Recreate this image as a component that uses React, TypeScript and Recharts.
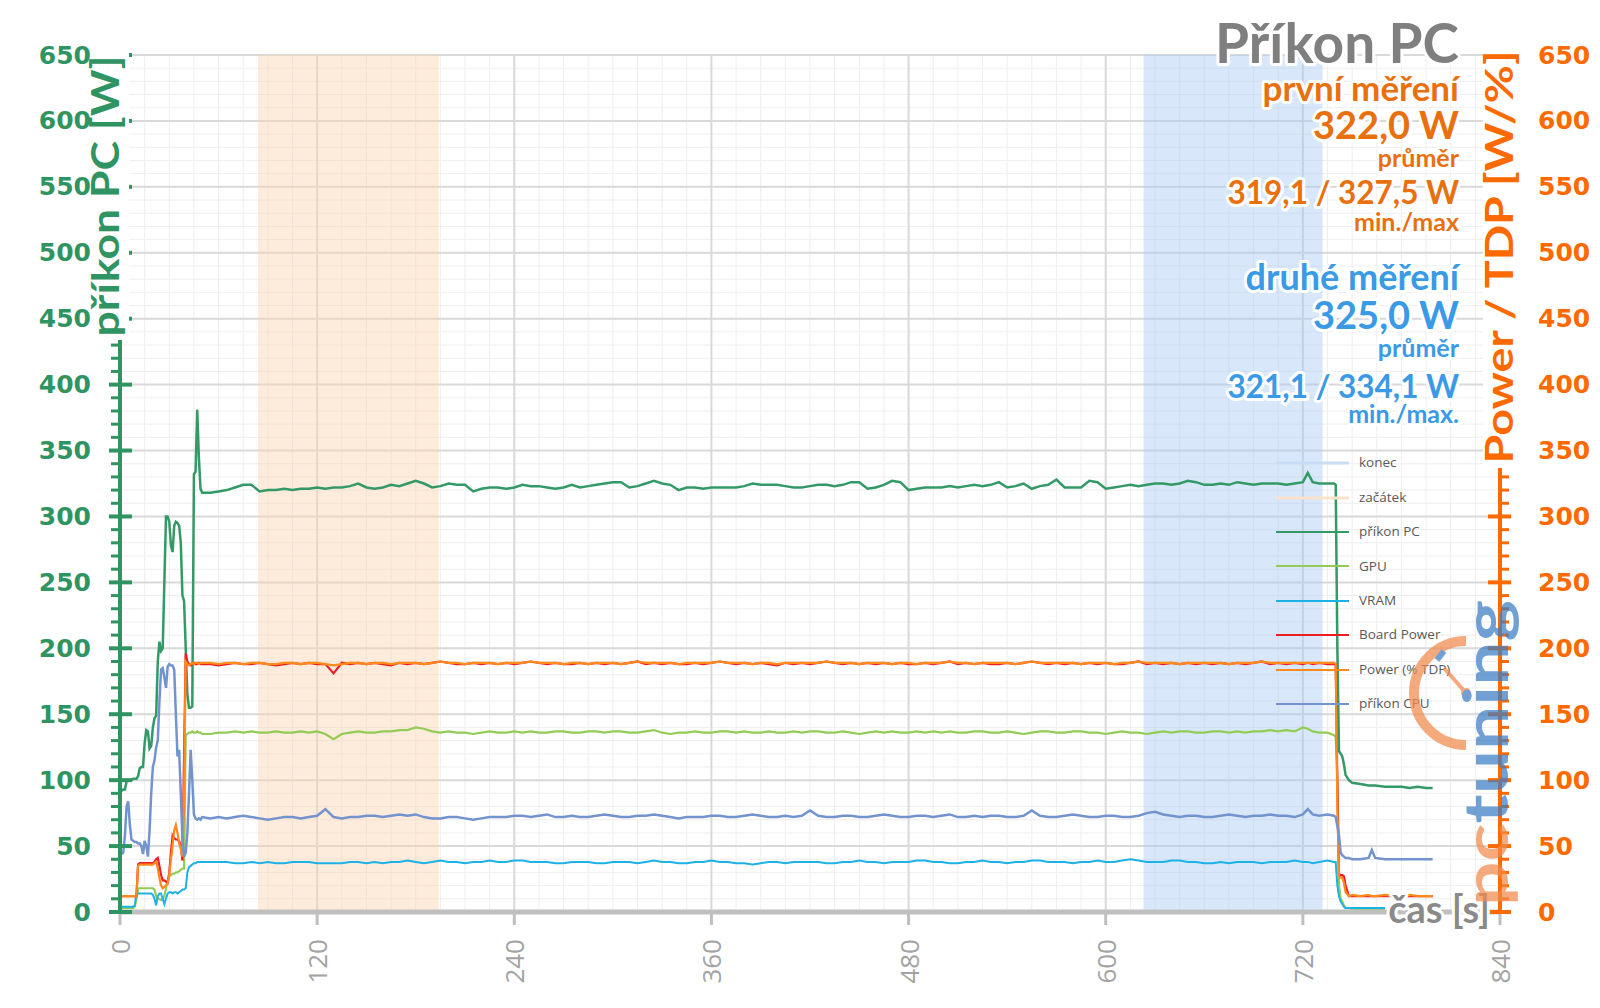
import { LineChart, Line, XAxis, YAxis, CartesianGrid, ReferenceArea, Legend } from 'recharts';

// time in seconds
const sec = [
  0, 1, 2, 3, 4, 5, 6, 7, 8, 9, 10, 11, 12, 13, 14, 15, 16, 17, 18, 19, 20, 21, 22, 23, 24, 25,
  26, 27, 28, 29, 30, 31, 32, 33, 34, 35, 36, 37, 38, 39, 40, 41, 42, 43, 44, 45, 46, 47, 48, 49, 50,
  55, 60, 65, 70, 75, 80, 85, 90, 95, 100, 105, 110,
  115, 120, 125, 130, 135, 140, 145, 150, 155, 160, 165, 170,
  175, 180, 185, 190, 195, 200, 205, 210, 215, 220, 225, 230,
  235, 240, 245, 250, 255, 260, 265, 270, 275, 280, 285, 290,
  295, 300, 305, 310, 315, 320, 325, 330, 335, 340, 345, 350,
  355, 360, 365, 370, 375, 380, 385, 390, 395, 400, 405, 410,
  415, 420, 425, 430, 435, 440, 445, 450, 455, 460, 465, 470,
  475, 480, 485, 490, 495, 500, 505, 510, 515, 520, 525, 530,
  535, 540, 545, 550, 555, 560, 565, 570, 575, 580, 585, 590,
  595, 600, 605, 610, 615, 620, 625, 630, 635, 640, 645, 650,
  655, 660, 665, 670, 675, 680, 685, 690, 695, 700, 705, 710,
  715,
  720, 723, 726, 730, 735, 739, 740, 741, 742, 743, 744, 745, 746, 748, 750, 755, 760, 762, 764, 770,
  775, 780, 785, 790, 795, 799,
];

// příkon PC [W]
const pcW = [
  92, 92, 93, 93, 99, 100, 100, 100, 101, 101,
  101, 103, 109, 110, 110, 128, 138, 137, 124, 126,
  140, 147, 149, 190, 205, 198, 200, 250, 300, 300,
  296, 278, 273, 293, 296, 295, 293, 280, 240, 236,
  200, 165, 155, 155, 156, 332, 334, 381, 345, 321,
  318,
  318, 319, 320, 322, 324, 324, 319, 320, 320, 321, 320, 321,
  321, 322, 321, 322, 322, 323, 325, 322, 321, 322, 324, 323,
  325, 327, 325, 322, 323, 325, 324, 324, 319, 321, 322, 322,
  321, 322, 324, 323, 323, 322, 321, 322, 324, 322, 323, 324,
  325, 326, 326, 322, 323, 325, 327, 325, 324, 320, 322, 322,
  321, 322, 322, 322, 322, 323, 325, 324, 324, 324, 323, 322,
  322, 323, 324, 324, 323, 324, 326, 326, 321, 322, 324, 327,
  326, 320, 321, 322, 322, 322, 323, 322, 323, 324, 323, 324,
  326, 322, 323, 325, 321, 323, 324, 328, 322, 322, 322, 327,
  326, 321, 322, 323, 324, 323, 324, 325, 325, 324, 325, 327,
  326, 324, 324, 325, 324, 326, 325, 324, 325, 325, 325, 324,
  325,
  326, 333, 326, 325, 325, 325, 324, 200, 122, 120, 118, 112, 104, 100, 98, 97, 96, 96, 96, 95,
  95, 95, 94, 95, 94, 94,
];

// GPU [W]
const gpuW = [
  3, 3, 3, 3, 3, 3, 3, 3, 3, 4,
  10, 18, 18, 18, 18, 18, 18, 18, 18, 18,
  18, 17, 12, 10, 10, 9, 10, 12, 18, 24,
  27, 28, 29, 29, 30, 30, 31, 32, 33, 33,
  134, 135, 136, 136, 137, 136, 136, 137, 136, 136,
  135,
  135, 136, 136, 137, 136, 137, 136, 136, 137, 136, 136, 137,
  136, 137, 135, 131, 135, 136, 137, 136, 136, 137, 137, 138,
  138, 140, 139, 137, 136, 137, 136, 136, 135, 136, 137, 136,
  136, 137, 136, 137, 136, 136, 137, 137, 136, 136, 137, 137,
  136, 137, 137, 136, 136, 137, 138, 136, 135, 136, 136, 137,
  136, 136, 137, 137, 136, 137, 136, 136, 137, 136, 136, 137,
  136, 137, 137, 136, 136, 137, 136, 135, 136, 137, 136, 137,
  136, 136, 137, 136, 137, 136, 137, 136, 136, 137, 137, 136,
  136, 137, 136, 135, 136, 137, 137, 136, 136, 137, 137, 136,
  136, 135, 136, 137, 136, 136, 135, 136, 137, 136, 137, 137,
  136, 136, 137, 137, 136, 137, 136, 137, 137, 138, 137, 138,
  137,
  140, 139, 137, 136, 136, 134, 133, 100, 20, 10, 8, 5, 3, 3, 2, 2, 2, 2, 2, 2,
  null, null, null, null, null, null,
];

// VRAM [W]
const vramW = [
  4, 4, 4, 4, 4, 4, 4, 4, 4, 5,
  14, 14, 14, 14, 14, 14, 14, 14, 14, 14,
  13, 10, 5, 12, 14, 14, 10, 6, 10, 14,
  15, 15, 14, 15, 15, 14, 15, 16, 17, 17,
  18, 30, 34, 35, 36, 37, 37, 38, 38, 38,
  38,
  38, 38, 38, 37, 37, 38, 37, 38, 37, 37, 38, 38,
  38, 37, 37, 37, 37, 38, 38, 37, 38, 37, 38, 38,
  39, 38, 37, 38, 39, 38, 38, 37, 38, 38, 39, 38,
  38, 39, 39, 38, 38, 38, 37, 37, 38, 38, 38, 37,
  37, 38, 38, 38, 37, 38, 39, 38, 38, 37, 37, 38,
  38, 39, 38, 38, 37, 37, 36, 37, 38, 38, 37, 38,
  38, 38, 38, 37, 37, 38, 38, 39, 38, 38, 37, 38,
  38, 38, 39, 39, 38, 38, 37, 37, 38, 38, 39, 38,
  38, 37, 38, 38, 39, 39, 38, 38, 38, 37, 38, 38,
  39, 38, 38, 39, 40, 39, 38, 38, 38, 39, 39, 38,
  38, 37, 37, 38, 37, 38, 38, 38, 37, 38, 38, 38,
  39,
  38, 38, 37, 38, 39, 38, 38, 20, 12, 8, 6, 4, 3, 3, 3, 3, 3, 3, 3, 3,
  null, null, null, null, null, null,
];

// příkon CPU [W]
const cpuW = [
  45, 44, 45, 58, 80, 84, 66, 55, 54, 53,
  53, 52, 52, 50, 44, 54, 50, 42, 62, 90,
  110, 115, 125, 130, 160, 184, 185, 178, 170, 186,
  188, 187, 187, 184, 150, 118, 123, 90, 55, 42,
  45, 60, 90, 123, 100, 74, 71, 70, 71, 70,
  72,
  71, 72, 71, 72, 73, 72, 71, 70, 71, 72, 72, 71,
  72, 73, 78, 72, 71, 72, 72, 73, 73, 72, 73, 74,
  73, 74, 72, 71, 71, 72, 72, 71, 70, 71, 72, 72,
  72, 73, 73, 72, 73, 74, 72, 72, 73, 72, 72, 73,
  74, 73, 72, 72, 73, 73, 74, 73, 72, 71, 72, 72,
  72, 73, 73, 72, 72, 73, 74, 73, 72, 72, 73, 72,
  73, 77, 73, 72, 72, 73, 73, 72, 72, 73, 74, 73,
  72, 72, 73, 73, 72, 73, 74, 72, 72, 73, 72, 73,
  73, 72, 72, 73, 77, 73, 72, 72, 73, 74, 73, 72,
  72, 73, 73, 72, 72, 73, 75, 76, 74, 73, 72, 73,
  73, 72, 72, 73, 74, 73, 72, 73, 73, 74, 73, 73,
  72,
  74, 78, 74, 73, 74, 73, 72, 65, 58, 45, 43, 42, 41, 41, 40, 40, 41, 47, 41, 40,
  40, 40, 40, 40, 40, 40,
];

// Board Power [W]
const boardW = [
  12, 12, 12, 12, 12, 12, 12, 12, 12, 12,
  12, 36, 37, 37, 37, 37, 37, 37, 37, 37,
  37, 38, 40, 41, 35, 28, 24, 24, 23, 22,
  30, 45, 58, 56, 55, 55, 54, 50, 39, 120,
  196, 190, 188, 187, 188, 189, 188, 188, 189, 188,
  188,
  188, 187, 188, 189, 188, 188, 189, 188, 187, 188, 189, 188,
  189, 188, 188, 181, 189, 188, 189, 188, 189, 188, 187, 189,
  188, 189, 188, 189, 190, 189, 188, 188, 189, 188, 189, 188,
  189, 188, 189, 190, 189, 188, 189, 188, 188, 189, 188, 189,
  188, 189, 188, 189, 190, 188, 189, 188, 189, 188, 188, 189,
  188, 189, 190, 189, 188, 189, 188, 189, 188, 187, 189, 188,
  189, 188, 189, 190, 189, 188, 189, 188, 189, 188, 189, 188,
  189, 188, 188, 189, 188, 189, 190, 188, 189, 188, 189, 188,
  188, 189, 188, 189, 190, 189, 188, 189, 188, 189, 188, 189,
  188, 189, 188, 188, 189, 190, 188, 189, 188, 189, 188, 189,
  188, 189, 188, 189, 188, 189, 188, 189, 190, 188, 189, 188,
  189,
  188, 189, 188, 189, 188, 188, 188, 100, 29, 28, 28, 27, 20, 12, 12, 12, 12, 12, 12, 12,
  12, 12, 12, 12, 12, 12,
];

// Power (% TDP)
const tdpPct = [
  12, 12, 12, 12, 12, 12, 12, 12, 12, 12,
  12, 35, 36, 36, 36, 36, 36, 36, 36, 36,
  36, 37, 38, 33, 26, 20, 18, 19, 20, 22,
  28, 40, 50, 62, 66, 60, 52, 48, 42, 90,
  190, 188, 187, 188, 189, 188, 189, 189, 188, 189,
  189,
  189, 188, 189, 189, 188, 189, 189, 188, 188, 189, 189, 188,
  189, 189, 188, 187, 188, 189, 189, 188, 189, 189, 188, 189,
  189, 189, 188, 189, 190, 189, 189, 188, 189, 189, 189, 188,
  189, 189, 189, 190, 189, 189, 189, 188, 189, 189, 188, 189,
  189, 189, 188, 189, 190, 189, 189, 189, 189, 188, 189, 189,
  189, 189, 190, 189, 189, 189, 188, 189, 189, 188, 189, 189,
  189, 189, 189, 190, 189, 189, 189, 188, 189, 189, 189, 188,
  189, 189, 188, 189, 189, 189, 190, 189, 189, 188, 189, 189,
  189, 189, 188, 189, 190, 189, 189, 189, 189, 189, 188, 189,
  189, 189, 188, 189, 189, 190, 189, 189, 189, 189, 188, 189,
  189, 189, 189, 189, 188, 189, 189, 189, 190, 189, 189, 189,
  189,
  189, 189, 189, 189, 189, 189, 188, 80, 27, 26, 26, 22, 15, 12, 13, 12, 13, 12, 12, 13,
  12, 12, 13, 12, 12, 12,
];

const xMajor = [0, 120, 240, 360, 480, 600, 720, 840];
const xMinor = [
  0, 15, 30, 45, 60, 75, 90, 105, 120, 135, 150, 165, 180, 195, 210, 225, 240, 255, 270, 285,
  300, 315, 330, 345, 360, 375, 390, 405, 420, 435, 450, 465, 480, 495, 510, 525, 540, 555,
  570, 585, 600, 615, 630, 645, 660, 675, 690, 705, 720, 735, 750, 765, 780, 795, 810, 825, 840,
];
const yMajor = [0, 50, 100, 150, 200, 250, 300, 350, 400, 450, 500, 550, 600, 650];
const yMinor = [
  0, 10, 20, 30, 40, 50, 60, 70, 80, 90, 100, 110, 120, 130, 140, 150, 160, 170, 180, 190,
  200, 210, 220, 230, 240, 250, 260, 270, 280, 290, 300, 310, 320, 330, 340, 350, 360, 370,
  380, 390, 400, 410, 420, 430, 440, 450, 460, 470, 480, 490, 500, 510, 520, 530, 540, 550,
  560, 570, 580, 590, 600, 610, 620, 630, 640, 650,
];

// začátek / konec measuring windows [s]
const startBand = [84, 194];
const endBand = [623, 732];

const legendNames = ['konec', 'začátek', 'příkon PC', 'GPU', 'VRAM', 'Board Power', 'Power (% TDP)', 'příkon CPU'];
const legendColors = ['#c8ddf3', '#fbe2cc', '#339966', '#92cc55', '#1cb2e6', '#ee1c25', '#ff8a1c', '#7393cf'];

const GREEN = '#2f9461';
const ORANGE = '#ff6a00';
const TXT_OR = '#e8700f';
const TXT_BL = '#3a9ae6';

const data = sec.map((t, i) => ({
  t,
  pc: pcW[i],
  gpu: gpuW[i],
  vram: vramW[i],
  cpu: cpuW[i],
  board: boardW[i],
  tdp: tdpPct[i],
}));

function TimeTick({ x, y, payload }: any) {
  return (
    <g>
      <line x1={x} x2={x} y1={y} y2={y + 13} stroke="#bfbfbf" strokeWidth={3} />
      <text
        transform={`rotate(-90 ${x} ${y + 27})`}
        x={x}
        y={y + 27}
        textAnchor="end"
        dominantBaseline="central"
        fill="#a3a3a3"
        fontFamily="Open Sans"
        fontSize={26}
      >
        {payload.value}
      </text>
    </g>
  );
}

function LeftTick({ x, y, payload }: any) {
  if (payload.value % 50 !== 0) {
    return <line x1={x - 9} x2={x - 1} y1={y} y2={y} stroke={GREEN} strokeWidth={3} />;
  }
  return (
    <g>
      <line x1={x - 11} x2={x + 12} y1={y} y2={y} stroke={GREEN} strokeWidth={4} />
      <text x={x - 29} y={y} textAnchor="end" dominantBaseline="central" fill={GREEN}
        fontFamily="DejaVu Sans" fontWeight="bold" fontSize={25}>
        {payload.value}
      </text>
    </g>
  );
}

function RightTick({ x, y, payload }: any) {
  if (payload.value % 50 !== 0) {
    return <line x1={x + 1} x2={x + 9} y1={y} y2={y} stroke={ORANGE} strokeWidth={3} />;
  }
  return (
    <g>
      <line x1={x - 12} x2={x + 11} y1={y} y2={y} stroke={ORANGE} strokeWidth={4} />
      <text x={x + 38} y={y} textAnchor="start" dominantBaseline="central" fill={ORANGE}
        fontFamily="DejaVu Sans" fontWeight="bold" fontSize={25}>
        {payload.value}
      </text>
    </g>
  );
}

function LegendBox() {
  return (
    <div style={{ width: 220 }}>
      {legendNames.map((n, i) => (
        <div key={n} style={{ height: 34.4, display: 'flex', alignItems: 'center' }}>
          <svg width={83} height={6} style={{ display: 'block' }}>
            <line x1={0} x2={73} y1={3} y2={3} stroke={legendColors[i]} strokeWidth={i < 2 ? 3 : 2} />
          </svg>
          <span style={{ fontFamily: 'Open Sans', fontSize: 13.5, color: '#595959', lineHeight: 1 }}>{n}</span>
        </div>
      ))}
    </div>
  );
}

const glow = { stroke: '#fff', strokeWidth: 6, paintOrder: 'stroke' as const, strokeLinejoin: 'round' as const };

function Overlay() {
  const t = (y: number, size: number, fill: string, s: string) => (
    <text x={1459} y={y} textAnchor="end" fontFamily="Lato" fontWeight="bold" fontSize={size} fill={fill} {...glow}>
      {s}
    </text>
  );
  return (
    <svg width={1600} height={1008} style={{ position: 'absolute', left: 0, top: 0, pointerEvents: 'none' }}>
      {/* axis titles */}
      <rect x={95} y={52} width={34} height={288} fill="#fff" />
      <text transform="rotate(-90 119 196)" x={119} y={196} textAnchor="middle" fontFamily="Lato"
        fontWeight="bold" fontSize={38} fill={GREEN} textLength={281} lengthAdjust="spacingAndGlyphs">
        příkon PC [W]
      </text>
      <rect x={1483} y={48} width={34} height={420} fill="#fff" />
      <text transform="rotate(-90 1513 257)" x={1513} y={257} textAnchor="middle" fontFamily="Lato"
        fontWeight="bold" fontSize={38} fill={ORANGE} textLength={413} lengthAdjust="spacingAndGlyphs">
        Power / TDP [W/%]
      </text>
      <text x={1490} y={923} textAnchor="end" fontFamily="Lato" fontWeight="bold" fontSize={38} fill="#8a8a8a" {...glow}>
        čas [s]
      </text>

      {/* watermark */}
      <g opacity={0.72}>
        <path d="M 1466 641 A 52 52 0 1 0 1466 745" fill="none" stroke="#f08a4b" strokeWidth={10} />
        <line x1={1444} y1={668} x2={1466} y2={693} stroke="#f08a4b" strokeWidth={4} />
        <circle cx={1466} cy={693} r={5} fill="#f08a4b" />
        <line x1={1437} y1={660} x2={1444} y2={651} stroke="#3b7dc4" strokeWidth={6} />
        <text transform="rotate(-90 1508 906)" x={1508} y={906} fontFamily="Lato" fontWeight="bold" fontSize={62}
          textLength={306} lengthAdjust="spacingAndGlyphs">
          <tspan fill="#f08a4b">pc</tspan>
          <tspan fill="#3b7dc4">tuning</tspan>
        </text>
      </g>

      {/* headline */}
      {t(63, 55, '#7f7f7f', 'Příkon PC')}
      {t(101, 35, TXT_OR, 'první měření')}
      {t(139, 38, TXT_OR, '322,0 W')}
      {t(167, 25, TXT_OR, 'průměr')}
      {t(204, 31.5, TXT_OR, '319,1 / 327,5 W')}
      {t(231, 25, TXT_OR, 'min./max')}
      {t(290, 36, TXT_BL, 'druhé měření')}
      {t(329, 38, TXT_BL, '325,0 W')}
      {t(357, 25, TXT_BL, 'průměr')}
      {t(398, 31.5, TXT_BL, '321,1 / 334,1 W')}
      {t(423, 25, TXT_BL, 'min./max.')}
    </svg>
  );
}

export default function App() {
  return (
    <div style={{ position: 'absolute', left: 0, top: 0, width: 1600, height: 1008, background: '#fff' }}>
      <LineChart width={1600} height={1008} data={data} margin={{ top: 55, right: 0, bottom: 0, left: 0 }}>
        <CartesianGrid stroke="#eeeeee" strokeWidth={1} horizontalValues={yMinor} verticalValues={xMinor} />
        <CartesianGrid stroke="#d9d9d9" strokeWidth={2} horizontalValues={yMajor} verticalValues={xMajor} />
        <ReferenceArea x1={startBand[0]} x2={startBand[1]} fill="#fbd3b0" fillOpacity={0.45} stroke="none" />
        <ReferenceArea x1={endBand[0]} x2={endBand[1]} fill="#a8cdf3" fillOpacity={0.45} stroke="none" />
        <XAxis
          dataKey="t"
          type="number"
          domain={[0, 840]}
          ticks={xMajor}
          interval={0}
          height={96}
          tickSize={0}
          tickMargin={0}
          tickLine={false}
          axisLine={{ stroke: '#bfbfbf', strokeWidth: 5 }}
          tick={<TimeTick />}
        />
        <YAxis
          type="number"
          domain={[0, 650]}
          ticks={yMinor}
          interval={0}
          width={120}
          tickSize={0}
          tickMargin={0}
          tickLine={false}
          axisLine={{ stroke: GREEN, strokeWidth: 4 }}
          tick={<LeftTick />}
        />
        <YAxis
          yAxisId="right"
          orientation="right"
          type="number"
          domain={[0, 650]}
          ticks={yMinor}
          interval={0}
          width={100}
          tickSize={0}
          tickMargin={0}
          tickLine={false}
          axisLine={{ stroke: ORANGE, strokeWidth: 4 }}
          tick={<RightTick />}
        />
        <Line dataKey="pc" stroke="#339966" strokeWidth={2.5} dot={false} isAnimationActive={false} />
        <Line dataKey="gpu" stroke="#92cc55" strokeWidth={2.2} dot={false} isAnimationActive={false} />
        <Line dataKey="vram" stroke="#1cb2e6" strokeWidth={2} dot={false} isAnimationActive={false} />
        <Line yAxisId="right" dataKey="board" stroke="#ee1c25" strokeWidth={2.2} dot={false} isAnimationActive={false} />
        <Line yAxisId="right" dataKey="tdp" stroke="#ff8a1c" strokeWidth={2.2} dot={false} isAnimationActive={false} />
        <Line dataKey="cpu" stroke="#7393cf" strokeWidth={2.5} dot={false} isAnimationActive={false} />
        <Legend
          layout="vertical"
          align="center"
          verticalAlign="middle"
          wrapperStyle={{ left: 1276, top: 446, width: 220 }}
          content={() => <LegendBox />}
        />
      </LineChart>
      <Overlay />
    </div>
  );
}
